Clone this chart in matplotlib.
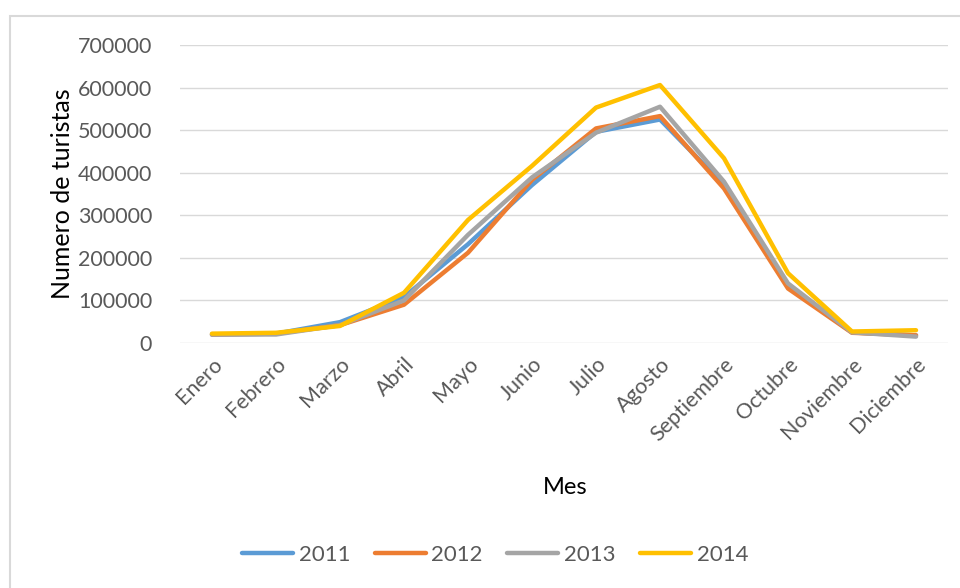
import matplotlib.pyplot as plt
from matplotlib.patches import Rectangle

plt.rcParams['font.family'] = ['Lato', 'DejaVu Sans']

meses = ['Enero', 'Febrero', 'Marzo', 'Abril', 'Mayo', 'Junio', 'Julio',
         'Agosto', 'Septiembre', 'Octubre', 'Noviembre', 'Diciembre']
t2011 = [20000, 22000, 49000, 108000, 232000, 371000, 496000, 525000, 371000, 135000, 25000, 18000]
t2012 = [20000, 22000, 42000, 90000, 212000, 383000, 504000, 533000, 363000, 128000, 24000, 18000]
t2013 = [20000, 20000, 42000, 100000, 254000, 389000, 494000, 555000, 379000, 140000, 25000, 15000]
t2014 = [22000, 24000, 40000, 118000, 289000, 416000, 553000, 606000, 434000, 164000, 27000, 30000]
series = [('2011', t2011, '#5B9BD5'), ('2012', t2012, '#ED7D31'),
          ('2013', t2013, '#A5A5A5'), ('2014', t2014, '#FFC000')]

W, H = 960, 588
fig = plt.figure(figsize=(W / 100, H / 100), dpi=100)
# chart border (extends past right/bottom edges, like the screenshot)
fig.add_artist(Rectangle((10 / W, -0.1), 1.2, 1 - 16 / H + 0.1, transform=fig.transFigure,
                         fill=False, edgecolor='#D9D9D9', lw=1.5))

ax = fig.add_axes([180 / W, 1 - 343 / H, 768 / W, 298 / H])
x = list(range(len(meses)))
for name, vals, col in series:
    ax.plot(x, vals, color=col, lw=3.2, label=name, solid_capstyle='round', solid_joinstyle='round')

ax.set_xlim(-0.5, 11.5)
ax.set_ylim(0, 700000)
ax.set_yticks(range(0, 700001, 100000))
ax.grid(axis='y', color='#D9D9D9', lw=1)
ax.set_axisbelow(True)
for s in ax.spines.values():
    s.set_visible(False)
ax.tick_params(length=0, colors='#595959', labelsize=15.5)
ax.tick_params(axis='y', pad=20)
ax.set_xticks(x)
ax.set_xticklabels(meses, rotation=45, ha='right', rotation_mode='anchor')
ax.tick_params(axis='x', pad=8)

ax.set_ylabel('Numero de turistas', fontsize=18, color='black')
ax.yaxis.set_label_coords((74 - 180) / 768, 0.5)
fig.text(565 / W, 1 - 487 / H, 'Mes', fontsize=17, ha='center', va='center')

fig.legend(loc='center', bbox_to_anchor=(495 / W, 1 - 555 / H), ncol=4, frameon=False,
           fontsize=16, handlelength=2.3, handletextpad=0.25, columnspacing=1.1,
           labelcolor='#595959')

fig.savefig('out.png', dpi=100)
